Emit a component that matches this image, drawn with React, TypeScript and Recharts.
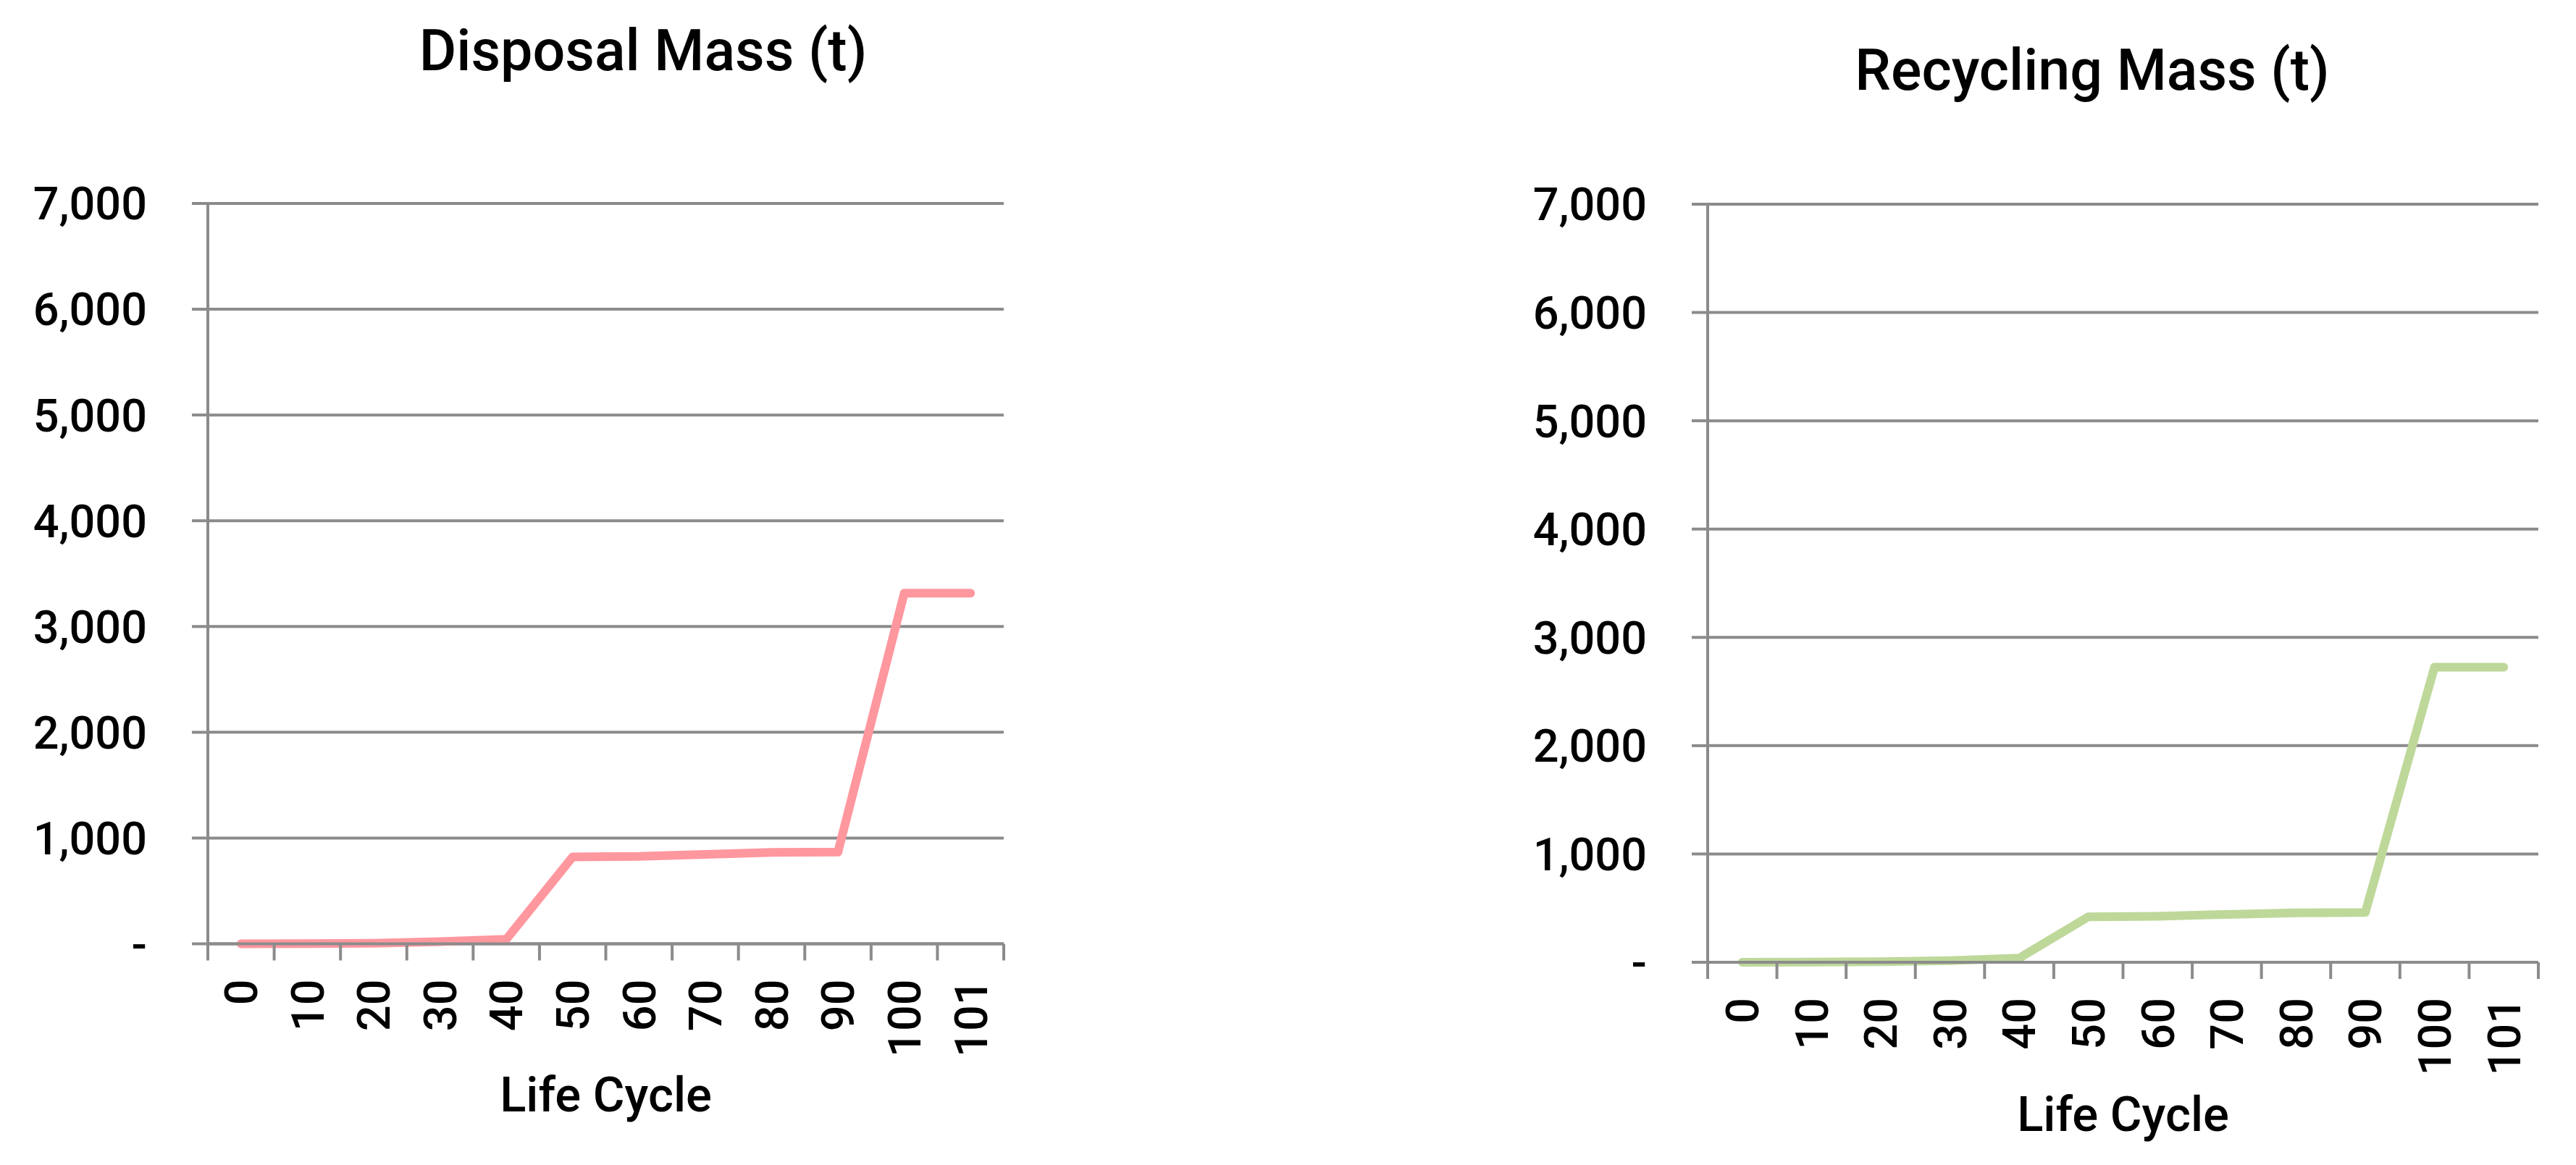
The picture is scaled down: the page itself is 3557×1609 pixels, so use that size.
import { CartesianGrid, Line, LineChart, XAxis, YAxis } from 'recharts';

const cycles = ['0', '10', '20', '30', '40', '50', '60', '70', '80', '90', '100', '101'];
const disposalMass = [0, 1, 5, 20, 42, 822, 826, 845, 864, 868, 3315, 3315];
const recyclingMass = [0, 1, 5, 15, 38, 420, 425, 442, 456, 460, 2725, 2725];
const yTicks = [0, 1000, 2000, 3000, 4000, 5000, 6000, 7000];

const disposalData = cycles.map((c, i) => ({ cycle: c, mass: disposalMass[i] }));
const recyclingData = cycles.map((c, i) => ({ cycle: c, mass: recyclingMass[i] }));

const FONT = 'Roboto, sans-serif';
const GRAY = '#8b8b8b';
const X_TICK = 23;
const X_MARGIN = 26;

const fmt = (v: number) => (v === 0 ? '-' : v.toLocaleString('en-US'));

// Excel-style category ticks: marks sit between categories, labels rotated
function CycleTick(props: any) {
  const { x, y, payload, index, bw, count } = props;
  const axisY = y - X_TICK - X_MARGIN;
  const left = x - bw / 2;
  const right = x + bw / 2;
  return (
    <g>
      <line x1={left} x2={left} y1={axisY} y2={axisY + X_TICK} stroke={GRAY} strokeWidth={4} />
      {index === count - 1 && (
        <line x1={right} x2={right} y1={axisY} y2={axisY + X_TICK} stroke={GRAY} strokeWidth={4} />
      )}
      <text
        x={x}
        y={y}
        transform={`rotate(-90, ${x}, ${y})`}
        textAnchor="end"
        dy="0.355em"
        fontSize={63}
        fontWeight={500}
        fontFamily={FONT}
        fill="#000"
      >
        {payload.value}
      </text>
    </g>
  );
}

function MassChart({ data, color, left, width, margin, yWidth, labelOffset }: any) {
  const plotWidth = width - margin.left - margin.right - yWidth;
  const bw = plotWidth / cycles.length;
  return (
    <div style={{ position: 'absolute', left, top: 0 }}>
      <LineChart width={width} height={1609} data={data} margin={margin}>
        <CartesianGrid vertical={false} stroke={GRAY} strokeWidth={4} />
        <XAxis
          dataKey="cycle"
          interval={0}
          height={240}
          padding={{ left: bw / 2, right: bw / 2 }}
          tickLine={false}
          tickSize={X_TICK}
          tickMargin={X_MARGIN}
          axisLine={{ stroke: GRAY, strokeWidth: 4 }}
          tick={(p: any) => <CycleTick {...p} bw={bw} count={cycles.length} />}
          label={{ value: 'Life Cycle', position: 'insideBottom', offset: labelOffset, fill: '#000', fontSize: 67, fontWeight: 500, fontFamily: FONT }}
        />
        <YAxis
          width={yWidth}
          domain={[0, 7000]}
          ticks={yTicks}
          interval={0}
          tickFormatter={fmt}
          tickSize={22}
          tickMargin={62}
          tickLine={{ stroke: GRAY, strokeWidth: 4 }}
          axisLine={{ stroke: GRAY, strokeWidth: 4 }}
          tick={{ fill: '#000', fontSize: 63, fontWeight: 500, fontFamily: FONT }}
        />
        <Line
          type="linear"
          dataKey="mass"
          stroke={color}
          strokeWidth={12}
          strokeLinecap="round"
          strokeLinejoin="round"
          dot={false}
          isAnimationActive={false}
        />
      </LineChart>
    </div>
  );
}

export default function App() {
  return (
    <div style={{ position: 'absolute', left: 0, top: 0, width: 3557, height: 1609, background: '#fff', fontFamily: FONT }}>
      <svg width={3557} height={1609} style={{ position: 'absolute', left: 0, top: 0 }}>
        <text x={888} y={97} textAnchor="middle" fontSize={79} fontWeight={500} fontFamily={FONT} fill="#000">
          Disposal Mass (t)
        </text>
        <text x={2889} y={124} textAnchor="middle" fontSize={79} fontWeight={500} fontFamily={FONT} fill="#000">
          Recycling Mass (t)
        </text>
      </svg>
      <MassChart
        data={disposalData}
        color="#ff979f"
        left={0}
        width={1450}
        margin={{ top: 281, right: 64, bottom: 65.5, left: 0 }}
        yWidth={287}
        labelOffset={8.5}
      />
      <MassChart
        data={recyclingData}
        color="#bed89a"
        left={2000}
        width={1557}
        margin={{ top: 282, right: 52, bottom: 40, left: 0 }}
        yWidth={358}
        labelOffset={7}
      />
    </div>
  );
}
